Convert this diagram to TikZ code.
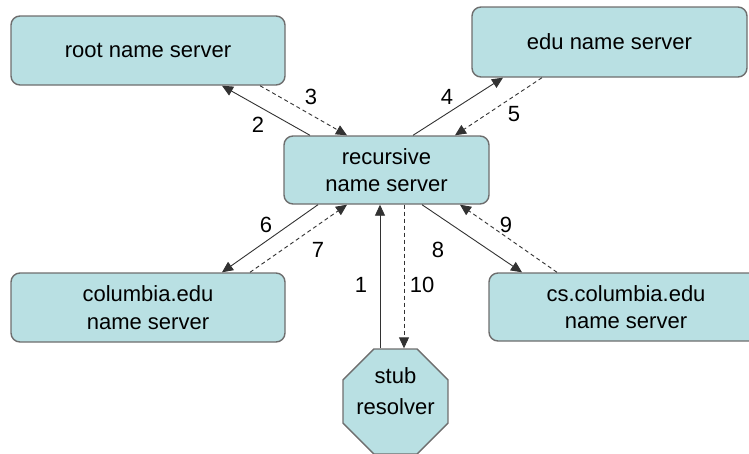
\documentclass[tikz,border=0pt]{standalone}
\usepackage{fontspec}
\setmainfont{Liberation Sans}
\usetikzlibrary{arrows.meta,shapes.geometric}
\definecolor{boxfill}{RGB}{185,224,227}
\definecolor{boxline}{RGB}{110,110,110}
\definecolor{arrline}{RGB}{50,50,50}
\tikzset{
  srv/.style={draw=boxline, line width=1.4pt, fill=boxfill, rounded corners=9pt,
    inner sep=0pt, align=center, font=\fontsize{22}{27.5}\selectfont},
  req/.style={draw=arrline, line width=0.9pt, -{Triangle[length=11pt,width=10pt]}},
  rsp/.style={draw=arrline, line width=0.9pt, dash pattern=on 4pt off 3pt, -{Triangle[length=11pt,width=10pt]}},
  num/.style={font=\fontsize{22}{26}\selectfont, inner sep=0pt}
}
\begin{document}
\begin{tikzpicture}[x=1pt,y=-1pt]
\useasboundingbox (0,0) rectangle (749,453);
\node[srv, minimum width=274pt, minimum height=69pt] (root) at (148,50.5) {root name server};
\node[srv, minimum width=275pt, minimum height=70pt] (edu) at (609.5,42) {edu name server};
\node[srv, minimum width=205pt, minimum height=68pt] (rec) at (386.5,170) {recursive\\name server};
\node[srv, minimum width=274pt, minimum height=69pt] (col) at (148,307.5) {columbia.edu\\name server};
\node[srv, minimum width=274pt, minimum height=68pt] (cs) at (626,307) {cs.columbia.edu\\name server};
\node[draw=boxline, line width=1.4pt, fill=boxfill, regular polygon, regular polygon sides=8,
  minimum size=113.6pt, inner sep=0pt,
  label={[font=\fontsize{22}{31}\selectfont, align=center, yshift=10pt]center:stub\\resolver}] (stub) at (395.5,401.5) {};
% connectors
\draw[req] ([xshift=-15.5pt]stub.north) -- ([xshift=-6.5pt]rec.south);
\draw[rsp] ([xshift=17.5pt]rec.south) -- ([xshift=8.5pt]stub.north);
\draw[req] ([xshift=-76.5pt]rec.north) -- ([xshift=74pt]root.south);
\draw[rsp] ([xshift=112pt]root.south) -- ([xshift=-39.5pt]rec.north);
\draw[req] ([xshift=26.5pt]rec.north) -- ([xshift=-106.5pt]edu.south);
\draw[rsp] ([xshift=-67.5pt]edu.south) -- ([xshift=68.5pt]rec.north);
\draw[req] ([xshift=-68.5pt]rec.south) -- ([xshift=74pt]col.north);
\draw[rsp] ([xshift=102pt]col.north) -- ([xshift=-39.5pt]rec.south);
\draw[req] ([xshift=35.5pt]rec.south) -- ([xshift=-104pt]cs.north);
\draw[rsp] ([xshift=-69pt]cs.north) -- ([xshift=73.5pt]rec.south);
% labels
\node[num] (n1) at (361,285) {1};
\node[num] (n2) at (258,125) {2};
\node[num] (n3) at (311,97) {3};
\node[num] (n4) at (447,97) {4};
\node[num] (n5) at (514,114) {5};
\node[num] (n6) at (266,225) {6};
\node[num] (n7) at (318,250) {7};
\node[num] (n8) at (438,250) {8};
\node[num] (n9) at (506,225) {9};
\node[num] (n10) at (422,285) {10};
\end{tikzpicture}
\end{document}
